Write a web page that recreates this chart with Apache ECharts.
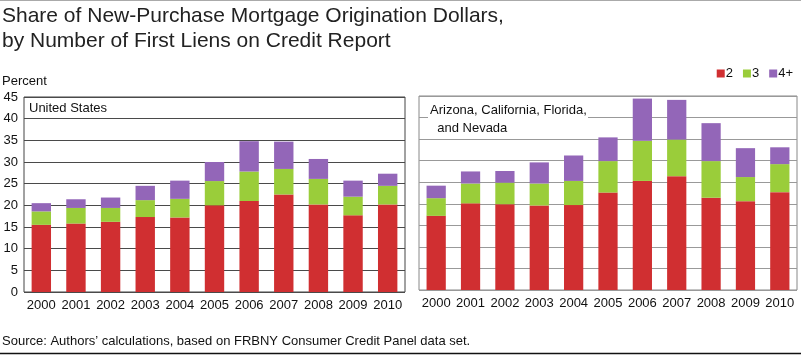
<!DOCTYPE html>
<html><head><meta charset="utf-8">
<script src="https://cdn.jsdelivr.net/npm/echarts@6/dist/echarts.min.js"></script>
<style>html,body{margin:0;padding:0;background:#fff}#c{width:801px;height:355px}</style>
</head><body><div id="c"></div>
<script>
const years = ['2000','2001','2002','2003','2004','2005','2006','2007','2008','2009','2010'];
const yTicks = [0,5,10,15,20,25,30,35,40,45];
// United States: segment sizes (percent)
const usTwo   = [15.5,15.8,16.2,17.3,17.2,20.0,21.0,22.5,20.2,17.7,20.2];
const usThree = [3.1,3.6,3.2,3.9,4.3,5.6,6.8,5.9,5.9,4.3,4.3];
const usFour  = [1.9,2.0,2.4,3.3,4.2,4.4,7.0,6.3,4.6,3.7,2.8];
// Arizona, California, Florida, and Nevada
const acTwo   = [17.2,20.1,19.9,19.6,19.7,22.6,25.3,26.4,21.4,20.6,22.7];
const acThree = [4.1,4.6,5.0,5.1,5.6,7.3,9.3,8.5,8.5,5.6,6.5];
const acFour  = [2.9,2.8,2.7,4.9,5.9,5.5,9.8,9.2,8.8,6.7,3.9];
const seriesNames = ['2','3','4+'];
const colors = ['#d02f31','#9acd3a','#9366b8'];

const font = 'Liberation Sans, Arial, sans-serif';
const chart = echarts.init(document.getElementById('c'), null, {renderer:'canvas'});
function yAx(idx, showLabels, gridColor){
  return {gridIndex: idx, type:'value', min:yTicks[0], max:yTicks[yTicks.length-1], interval:5,
    axisLine:{show:false}, axisTick:{show:false},
    axisLabel:{show:showLabels, fontFamily:font, fontSize:13, color:'#111', margin:6},
    splitLine:{show:true, lineStyle:{color:gridColor, width:1}}};
}
function xAx(idx){
  return {gridIndex: idx, type:'category', data:years,
    axisLine:{show:false}, axisTick:{show:false},
    axisLabel:{fontFamily:font, fontSize:13, color:'#111', margin:7, interval:0}};
}
function bar(name, data, idx, color){
  return {name:name, type:'bar', stack:'s'+idx, xAxisIndex:idx, yAxisIndex:idx, data:data,
    barWidth:'56%', itemStyle:{color:color}, emphasis:{disabled:true}};
}
chart.setOption({
  animation:false,
  textStyle:{fontFamily:font},
  legend:{data:seriesNames, right:6, top:62, itemWidth:8, itemHeight:8, itemGap:10, icon:'rect',
    padding:[5,2,5,5],
    textStyle:{fontFamily:font, fontSize:13, color:'#111', padding:[0,0,0,-4]}},
  grid:[
    {left:24, top:97, width:381, height:195, show:true, borderColor:'#444', borderWidth:1, backgroundColor:'transparent'},
    {left:419, top:96, width:378, height:194, show:true, borderColor:'#888', borderWidth:1, backgroundColor:'transparent'}
  ],
  xAxis:[xAx(0), xAx(1)],
  yAxis:[yAx(0,true,'#4a4a4a'), yAx(1,false,'#999')],
  series:[
    bar(seriesNames[0], usTwo, 0, colors[0]),
    bar(seriesNames[1], usThree, 0, colors[1]),
    bar(seriesNames[2], usFour, 0, colors[2]),
    bar(seriesNames[0], acTwo, 1, colors[0]),
    bar(seriesNames[1], acThree, 1, colors[1]),
    bar(seriesNames[2], acFour, 1, colors[2])
  ],
  graphic:[
    {type:'line', shape:{x1:0,y1:0.5,x2:801,y2:0.5}, style:{stroke:'#aaa', lineWidth:1}},
    {type:'line', shape:{x1:0,y1:353.5,x2:801,y2:353.5}, style:{stroke:'#111', lineWidth:1.5}},
    {type:'text', left:2, top:4, style:{text:'Share of New-Purchase Mortgage Origination Dollars,\nby Number of First Liens on Credit Report', font:'21px '+font, fill:'#222', lineHeight:25}},
    {type:'text', left:2, top:75, style:{text:'Percent', font:'13px '+font, fill:'#111'}},
    {type:'text', left:29, top:102, style:{text:'United States', font:'13px '+font, fill:'#111'}},
    {type:'rect', shape:{x:428, y:100, width:160, height:36}, style:{fill:'#fff'}, z:10},
    {type:'text', left:430, top:101, z:11, style:{text:'Arizona, California, Florida,\n  and Nevada', font:'13px '+font, fill:'#111', lineHeight:18}},
    {type:'text', left:2, top:335, style:{text:'Source: Authors\u2019 calculations, based on FRBNY Consumer Credit Panel data set.', font:'13px '+font, fill:'#111'}}
  ]
});
</script></body></html>
